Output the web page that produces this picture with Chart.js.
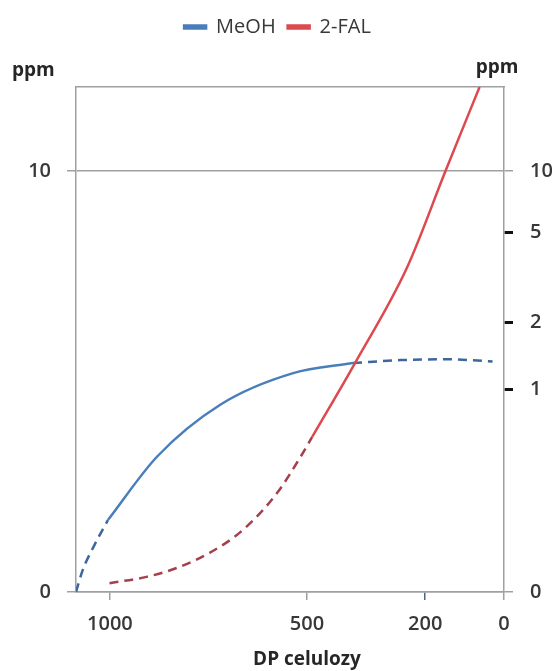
<!DOCTYPE html>
<html>
<head>
<meta charset="utf-8">
<script src="https://cdn.jsdelivr.net/npm/chart.js@4/dist/chart.umd.min.js"></script>
<style>
  html, body { margin: 0; padding: 0; background: #ffffff; }
  #wrap { width: 555px; height: 671px; position: relative; }
</style>
</head>
<body>
<div id="wrap"><canvas id="c" width="555" height="671"></canvas></div>
<script>
// ---- data (DP of cellulose on x, ppm on y) ----
const xTickValues = [1000, 500, 200, 0];
const leftTickValues = [0, 10];
const rightTickLabels = ['0', '1', '2', '5', '10'];
const rightTickPos = [0, 4.82, 6.41, 8.54, 10];

const meohDashLowDP  = [1086, 1069, 1039, 1005];
const meohDashLowPpm = [0, 0.52, 1.12, 1.71];
const meohSolidDP    = [1005, 880, 720, 535, 383];
const meohSolidPpm   = [1.71, 3.22, 4.45, 5.20, 5.44];
const meohDashHighDP  = [383, 263, 144, 29];
const meohDashHighPpm = [5.44, 5.51, 5.53, 5.48];

const falDashDP  = [1001, 907, 831, 747, 663, 576, 517, 487];
const falDashPpm = [0.21, 0.36, 0.57, 0.93, 1.47, 2.35, 3.20, 3.68];
const falSolidDP  = [487, 378, 246, 149, 62];
const falSolidPpm = [3.68, 5.44, 7.71, 9.99, 12];

const pts = (xs, ys) => xs.map((x, i) => ({ x: x, y: ys[i] }));

const FONT = "'Open Sans', 'Liberation Sans', sans-serif";
const TXT = '#383838';
const GRID = '#a0a0a0';
const BLUE = '#4a7ebb', BLUE_D = '#3d679c';
const RED = '#dc4a50', RED_D = '#a63f4c';

const textPlugin = {
  id: 'extraText',
  afterDraw(chart) {
    const ctx = chart.ctx;
    ctx.save();
    ctx.fillStyle = '#262626';
    ctx.font = "bold 19px " + FONT;
    ctx.textBaseline = 'middle';
    ctx.textAlign = 'left';
    ctx.fillText('ppm', 12, 71);
    ctx.textAlign = 'center';
    ctx.fillText('ppm', 497, 68);
    ctx.fillText('DP celulozy', 307, 660);
    ctx.restore();
  }
};

const common = { pointRadius: 0, borderWidth: 2.5, fill: false, cubicInterpolationMode: 'monotone', yAxisID: 'y' };

new Chart(document.getElementById('c'), {
  type: 'line',
  data: {
    datasets: [
      Object.assign({ label: 'MeOH', data: pts(meohSolidDP, meohSolidPpm), borderColor: BLUE, backgroundColor: BLUE }, common),
      Object.assign({ label: '2-FAL', data: pts(falSolidDP, falSolidPpm), borderColor: RED, backgroundColor: RED }, common),
      Object.assign({ label: '', data: pts(meohDashLowDP, meohDashLowPpm), borderColor: BLUE_D, borderDash: [9, 6] }, common),
      Object.assign({ label: '', data: pts(meohDashHighDP, meohDashHighPpm), borderColor: BLUE_D, borderDash: [9, 6] }, common),
      Object.assign({ label: '', data: pts(falDashDP, falDashPpm), borderColor: RED_D, borderDash: [9, 6] }, common)
    ]
  },
  options: {
    responsive: false,
    animation: false,
    layout: { padding: { top: 5, left: 0, right: 0, bottom: 0 } },
    plugins: {
      tooltip: { enabled: false },
      legend: {
        position: 'top',
        labels: {
          filter: item => item.text !== '',
          color: TXT,
          font: { family: FONT, size: 20 },
          boxWidth: 22,
          boxHeight: 3,
          padding: 12
        }
      }
    },
    scales: {
      x: {
        type: 'linear', position: 'bottom', reverse: true, min: 0, max: 1086,
        afterBuildTicks: s => { s.ticks = xTickValues.map(v => ({ value: v })); },
        afterFit: s => { s.height = 79; },
        grid: { drawOnChartArea: false, tickLength: 8, lineWidth: 1.5,
                color: c => (c.tick && c.tick.value === 200) ? '#4a6790' : GRID },
        border: { display: true, color: GRID, width: 1.5 },
        ticks: { color: TXT, font: { family: FONT, size: 20, weight: '600' }, padding: 12, maxRotation: 0,
                 callback: v => String(v) }
      },
      x2: {
        type: 'linear', position: 'top', min: 0, max: 1086,
        afterFit: s => { s.height = 40; },
        grid: { drawOnChartArea: false, drawTicks: false },
        border: { display: true, color: GRID, width: 1.5 },
        ticks: { display: false }
      },
      y: {
        type: 'linear', position: 'left', min: 0, max: 12,
        afterBuildTicks: s => { s.ticks = leftTickValues.map(v => ({ value: v })); },
        afterFit: s => { s.width = 76; },
        grid: { drawOnChartArea: true, tickLength: 9, lineWidth: 1.5, color: GRID },
        border: { display: true, color: GRID, width: 1.5 },
        ticks: { color: TXT, font: { family: FONT, size: 20, weight: '600' }, padding: 16,
                 callback: v => String(v) }
      },
      y2: {
        type: 'linear', position: 'right', min: 0, max: 12,
        afterBuildTicks: s => { s.ticks = rightTickPos.map(v => ({ value: v })); },
        afterFit: s => { s.width = 51; },
        grid: { drawOnChartArea: false, tickLength: 9,
                lineWidth: c => (c.index > 0 && c.index < rightTickPos.length - 1) ? 3 : 1.5,
                color: c => (c.index > 0 && c.index < rightTickPos.length - 1) ? '#111111' : GRID },
        border: { display: true, color: GRID, width: 1.5 },
        ticks: { color: TXT, font: { family: FONT, size: 20, weight: '600' }, padding: 17,
                 callback: (v, i) => rightTickLabels[i] }
      }
    }
  },
  plugins: [textPlugin]
});
</script>
</body>
</html>
